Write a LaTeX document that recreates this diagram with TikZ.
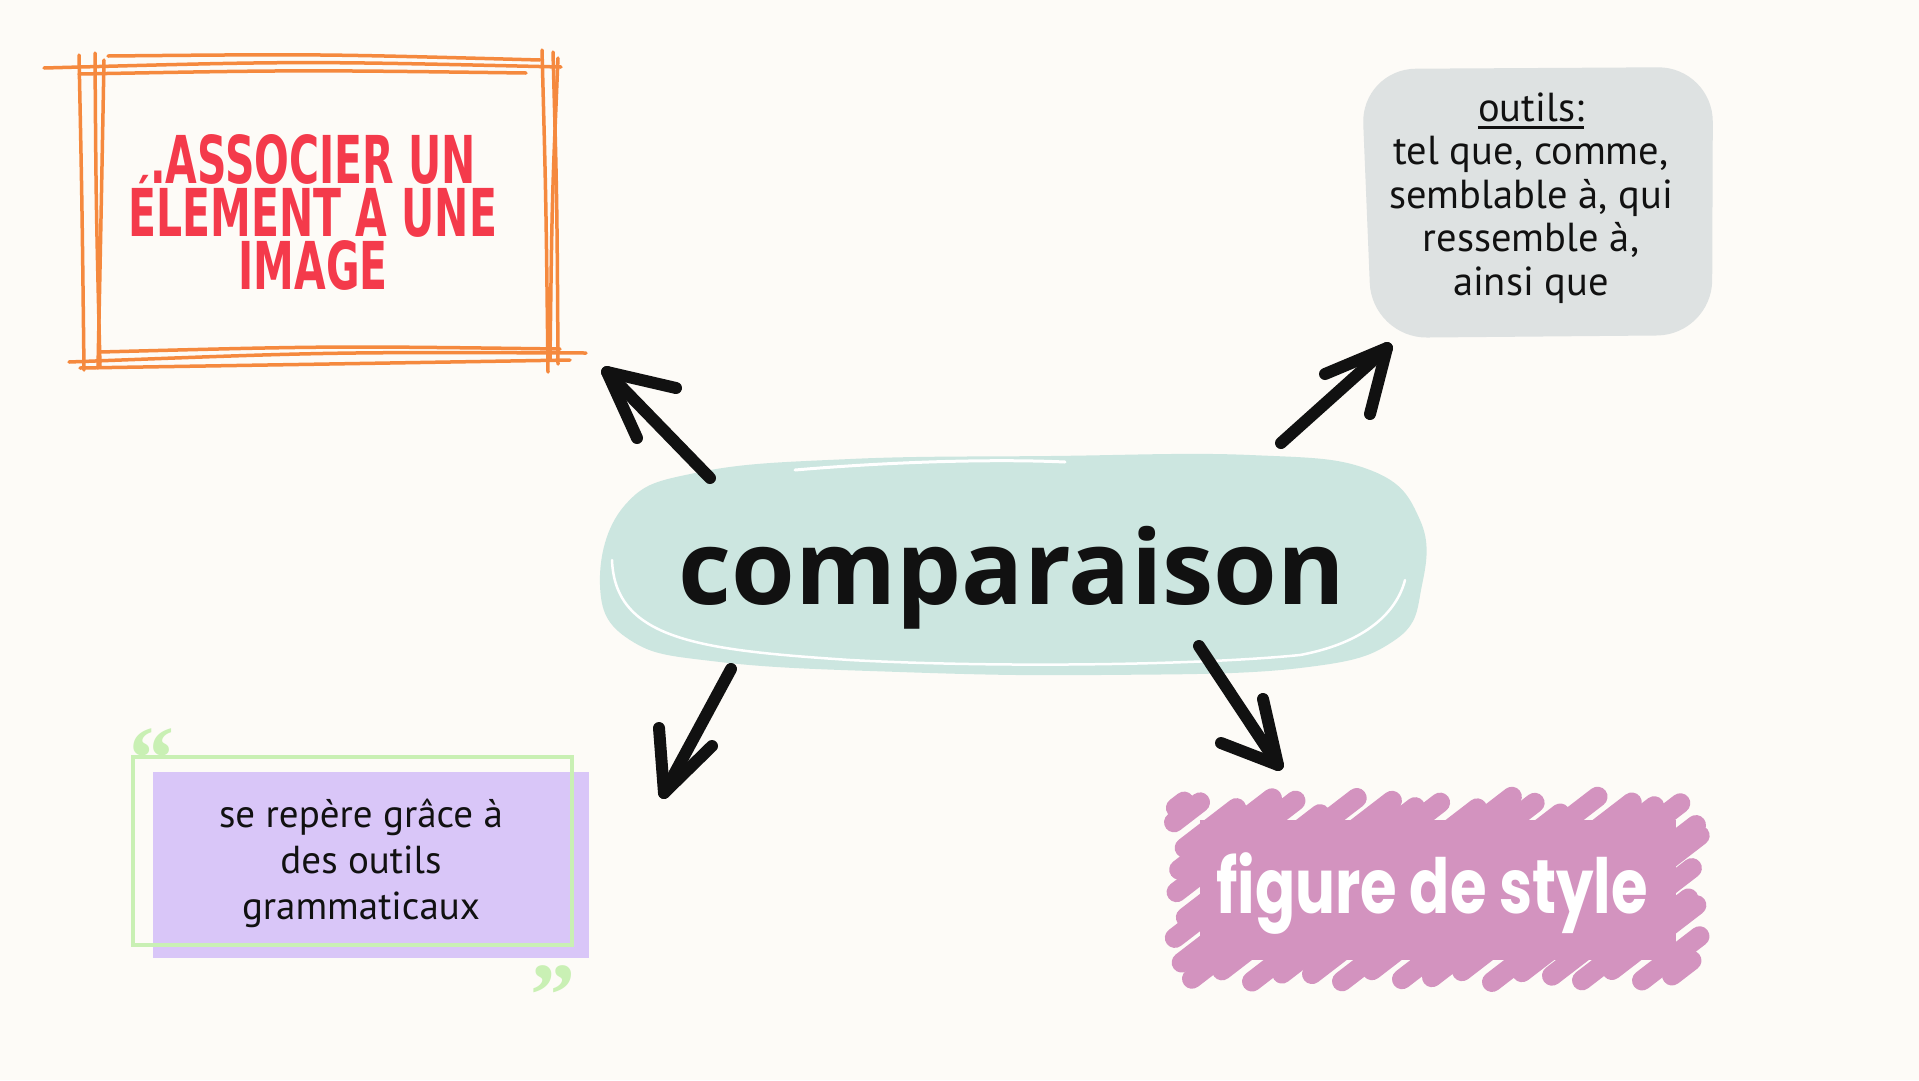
\documentclass[tikz,border=0pt]{standalone}
\usepackage{fontspec}
\setmainfont{PT Sans}
\newfontfamily\assocfont[FakeStretch=0.62]{DejaVu Sans}
\newfontfamily\compfont{Open Sans}
\newfontfamily\figfont[FakeStretch=0.78]{Poppins}
\newfontfamily\quotefont{Liberation Serif}
\definecolor{bgc}{HTML}{FDFBF7}
\definecolor{mint}{HTML}{CCE6E0}
\definecolor{grayb}{HTML}{DEE2E2}
\definecolor{lav}{HTML}{D9C6F8}
\definecolor{lgreen}{HTML}{C9F0B4}
\definecolor{pinkb}{HTML}{D393BF}
\definecolor{orng}{HTML}{F5893E}
\definecolor{redt}{HTML}{F43A4B}
\definecolor{inkc}{HTML}{111111}
\tikzset{
  orangeline/.style={draw=orng, line width=3.5pt, line cap=round},
  pinkstroke/.style={draw=pinkb, line width=20pt, line cap=round},
  handarrow/.style={draw=inkc, line width=12pt, line cap=round, line join=round},
  handtext/.style={font=\fontsize{39}{46}\selectfont, align=center, text=inkc, inner sep=0pt},
}
\begin{document}
\begin{tikzpicture}[x=1pt,y=-1pt]
\useasboundingbox (0,0) rectangle (1919,1080);
\fill[bgc] (0,0) rectangle (1919,1080);

% ---------- orange hand-drawn frame ----------
\draw[orangeline] (44,68) .. controls (300,61) .. (561,67);
\draw[orangeline] (108,56) .. controls (320,54) .. (540,60);
\draw[orangeline] (79,74) .. controls (300,70) .. (526,73);
\draw[orangeline] (79,55) .. controls (82,200) .. (84,370);
\draw[orangeline] (95,53) .. controls (96,200) .. (100,366);
\draw[orangeline] (104,60) .. controls (101,220) .. (98,368);
\draw[orangeline] (542,50) .. controls (546,200) .. (548,372);
\draw[orangeline] (553,52) .. controls (557,200) .. (558,364);
\draw[orangeline] (558,58) .. controls (552,200) .. (550,360);
\draw[orangeline] (69,362) .. controls (330,352) .. (586,353);
\draw[orangeline] (80,368) .. controls (330,364) .. (570,360);
\draw[orangeline] (100,352) .. controls (330,346) .. (560,349);
\node (assoc) [font=\assocfont\bfseries\fontsize{66}{53}\selectfont, text=redt, align=center, inner sep=0pt, anchor=base] at (313,289) {.ASSOCIER UN\\\smash{É}LEMENT A UNE\\IMAGE};

% ---------- gray box ----------
\fill[grayb, rounded corners=55pt] (1361,69) -- (1713,67) -- (1712,335) -- (1372,338) -- cycle;
\node (ot) [handtext, font=\fontsize{40.5}{44}\selectfont, anchor=base] at (1531,121) {outils:};
\draw[inkc, line width=3pt] ([yshift=-6pt]ot.base west) -- ([yshift=-6pt]ot.base east);
\node (outils) [handtext, font=\fontsize{40.5}{43.5}\selectfont, anchor=base] at (1531,295)
  {tel que, comme,\\semblable à, qui\\ressemble à,\\ainsi que};

% ---------- central blob ----------
\fill[mint] plot[smooth cycle, tension=0.7] coordinates {
  (600,585) (625,505) (700,472) (850,459) (1050,456) (1250,455) (1370,470) (1420,520)
  (1422,585) (1395,640) (1300,668) (1100,675) (900,672) (720,662) (630,640)};
\draw[white, line width=3pt, line cap=round] (795,470) .. controls (900,461) and (1000,459) .. (1065,462);
\draw[white, line width=2.5pt, line cap=round] (612,560) .. controls (615,640) and (700,650) .. (850,660)
   .. controls (1000,668) and (1200,665) .. (1300,655) .. controls (1380,640) and (1400,600) .. (1405,580);
\node (comp) [font=\compfont\bfseries\fontsize{103}{110}\selectfont, text=inkc, inner sep=0pt, anchor=base] at (1012,604) {comparaison};

% ---------- lavender box ----------
\fill[lav] (153,772) rectangle (589,958);
\draw[lgreen, line width=4pt] (133,757) rectangle (572,945);
\node (q1) [font=\quotefont\bfseries\fontsize{90}{90}\selectfont, text=lgreen, inner sep=0pt, anchor=north] at (152,728) {“};
\node (q2) [font=\quotefont\bfseries\fontsize{90}{90}\selectfont, text=lgreen, inner sep=0pt, anchor=north] at (553,965) {”};
\node (repere) [handtext, anchor=base] at (361,919) {se repère grâce à\\des outils\\grammaticaux};

% ---------- pink scribble ----------
\fill[pinkb] (1200,820) rectangle (1676,960);
\foreach \s [count=\i] in {952,982,...,1700}{
  \pgfmathsetmacro{\ja}{6*sin(\i*137)}
  \pgfmathsetmacro{\jb}{6*cos(\i*91)}
  \pgfmathsetmacro{\ax}{max(\s,1180+\ja)}
  \pgfmathsetmacro{\ay}{976+\ja-(\ax-\s)/1.3}
  \pgfmathsetmacro{\bx}{min(\s+224+\jb,1694+\jb)}
  \pgfmathsetmacro{\by}{976+\ja-(\bx-\s)/1.3}
  \draw[pinkstroke] (\ax,\ay) -- (\bx,\by);
}
\node (figure) [font=\figfont\bfseries\fontsize{76}{80}\selectfont, text=white, inner sep=0pt, anchor=base] at (1432,913) {figure de style};

% ---------- arrows ----------
\coordinate (a1s) at (710,478);
\coordinate (a1t) at (607,372);
\coordinate (a1w) at (676,388);
\coordinate (a1v) at (637,438);
\draw[handarrow] (a1s) -- (a1t);
\draw[handarrow] (a1w) -- (a1t) -- (a1v);

\coordinate (a2s) at (1281,443);
\coordinate (a2t) at (1387,348);
\coordinate (a2w) at (1325,374);
\coordinate (a2v) at (1370,414);
\draw[handarrow] (a2s) -- (a2t);
\draw[handarrow] (a2w) -- (a2t) -- (a2v);

\coordinate (a3s) at (731,669);
\coordinate (a3t) at (664,793);
\coordinate (a3w) at (659,728);
\coordinate (a3v) at (712,746);
\draw[handarrow] (a3s) -- (a3t);
\draw[handarrow] (a3w) -- (a3t) -- (a3v);

\coordinate (a4s) at (1199,646);
\coordinate (a4t) at (1278,765);
\coordinate (a4w) at (1221,743);
\coordinate (a4v) at (1263,699);
\draw[handarrow] (a4s) -- (a4t);
\draw[handarrow] (a4w) -- (a4t) -- (a4v);
\end{tikzpicture}
\end{document}
